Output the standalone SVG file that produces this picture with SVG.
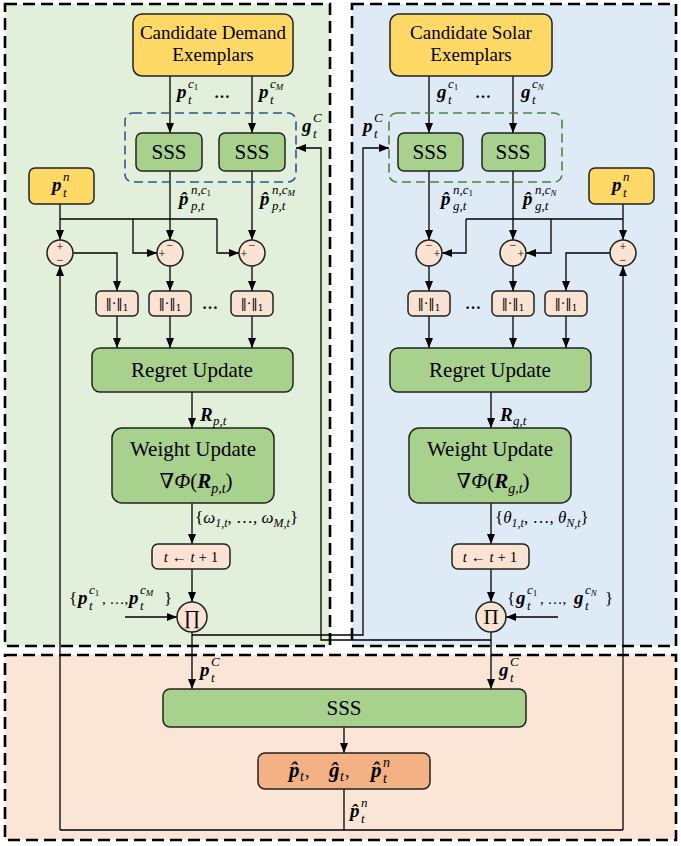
<svg xmlns="http://www.w3.org/2000/svg" width="681" height="846" viewBox="0 0 681 846">
<defs>
<marker id="ah" viewBox="0 0 10 8" refX="10" refY="4" markerWidth="10" markerHeight="8" markerUnits="userSpaceOnUse" orient="auto"><path d="M0,0 L10,4 L0,8 Z" fill="#000"/></marker>
<style>
.panel{stroke:#000;stroke-width:2.6;stroke-dasharray:12 6}
.box{stroke:#222;stroke-width:1.5}
.yel{fill:#FFD966}.grn{fill:#A9D18E}.pch{fill:#FBE3D4}.org{fill:#F4B183}
.grp{fill:none;stroke-width:1.6;stroke-dasharray:9 5}
.c{stroke:#000;stroke-width:1.3;fill:none}
.a{marker-end:url(#ah)}
text{font-family:"Liberation Serif","DejaVu Serif",serif;fill:#000}
.big{font-size:21px;text-anchor:middle}
.cand{font-size:19px;text-anchor:middle}
.m{font-style:italic;font-weight:bold;font-size:19px}
.s{font-style:italic;font-size:13px}
.ss{font-style:normal;font-size:9px}
.ssi{font-style:italic;font-size:9px}
.sg{font-size:12px;text-anchor:middle}
.nm{font-family:"DejaVu Serif",serif;font-size:13px;text-anchor:middle;opacity:0.99}
.dots{font-size:16px;font-weight:bold;text-anchor:middle}
</style>
</defs>
<rect width="681" height="846" fill="#fff"/>
<g id="panel-demand"><rect x="5" y="4" width="325" height="642" fill="#E2EFDA" class="panel"/></g>
<g id="panel-solar"><rect x="352" y="4" width="324" height="642" fill="#DEEBF7" class="panel"/></g>
<g id="panel-combine"><rect x="5" y="655" width="671" height="185" fill="#FBE5D6" class="panel"/></g>

<g id="connectors">
<path class="c a" d="M170,76V133"/>
<path class="c a" d="M252,76V133"/>
<path class="c a" d="M170,171V240"/>
<path class="c a" d="M252,171V240"/>
<path class="c a" d="M60,204V240"/>
<path class="c" d="M60,219H217"/>
<path class="c a" d="M133,219V253H157"/>
<path class="c a" d="M217,219V253H239"/>
<path class="c a" d="M73,253H117V291"/>
<path class="c a" d="M170,266V291"/>
<path class="c a" d="M252,266V291"/>
<path class="c a" d="M117,316V348"/>
<path class="c a" d="M170,316V348"/>
<path class="c a" d="M252,316V348"/>
<path class="c a" d="M192,392V428"/>
<path class="c a" d="M192,503V544"/>
<path class="c a" d="M192,569V602"/>
<path class="c a" d="M125,617H177"/>
<path class="c a" d="M192,632V689"/>
<path class="c a" d="M192,635H363V148H389"/>
<path class="c a" d="M429,76V133"/>
<path class="c a" d="M513,76V133"/>
<path class="c a" d="M429,171V240"/>
<path class="c a" d="M513,171V240"/>
<path class="c a" d="M623,204V240"/>
<path class="c" d="M466,219H623"/>
<path class="c a" d="M466,219V253H442"/>
<path class="c a" d="M551,219V253H526"/>
<path class="c a" d="M610,253H566V291"/>
<path class="c a" d="M429,266V291"/>
<path class="c a" d="M513,266V291"/>
<path class="c a" d="M429,316V348"/>
<path class="c a" d="M513,316V348"/>
<path class="c a" d="M566,316V348"/>
<path class="c a" d="M491,392V428"/>
<path class="c a" d="M491,503V544"/>
<path class="c a" d="M491,569V602"/>
<path class="c a" d="M558,617H506"/>
<path class="c a" d="M491,632V689"/>
<path class="c a" d="M491,640H321V148H296"/>
<path class="c a" d="M344,727V753"/>
<path class="c" d="M344,789V830M60,830H623"/>
<path class="c a" d="M60,830V266"/>
<path class="c a" d="M623,830V266"/>
</g>

<g id="demand-exemplars"><rect class="box yel" x="133" y="14" width="160" height="62" rx="9"/><text class="cand" x="213" y="39">Candidate Demand</text><text class="cand" x="213" y="61">Exemplars</text></g>
<g id="solar-exemplars"><rect class="box yel" x="390" y="14" width="162" height="62" rx="9"/><text class="cand" x="471" y="39">Candidate Solar</text><text class="cand" x="471" y="61">Exemplars</text></g>

<g id="demand-sss-group"><rect class="grp" x="125" y="113" width="171" height="69" rx="8" stroke="#2F5597"/></g>
<g id="solar-sss-group"><rect class="grp" x="389" y="113" width="173" height="69" rx="8" stroke="#548235"/></g>

<g id="sss-p1"><rect class="box grn" x="136" y="133" width="66" height="38" rx="6"/><text class="big" x="169" y="159">SSS</text></g>
<g id="sss-pM"><rect class="box grn" x="219" y="133" width="66" height="38" rx="6"/><text class="big" x="252" y="159">SSS</text></g>
<g id="sss-g1"><rect class="box grn" x="398" y="133" width="65" height="38" rx="6"/><text class="big" x="430" y="159">SSS</text></g>
<g id="sss-gN"><rect class="box grn" x="482" y="133" width="63" height="38" rx="6"/><text class="big" x="513" y="159">SSS</text></g>

<g id="pn-left"><rect class="box yel" x="29" y="168" width="65" height="36" rx="6"/><text class="m" x="52" y="191">p</text><text class="s" x="63" y="181">n</text><text class="s" x="63" y="196.5">t</text></g>
<g id="pn-right"><rect class="box yel" x="589" y="168" width="65" height="36" rx="6"/><text class="m" x="612" y="191">p</text><text class="s" x="623" y="181">n</text><text class="s" x="623" y="196.5">t</text></g>

<g id="sum-p0"><circle class="box pch" cx="60" cy="253" r="13"/><text class="sg" x="60" y="251">+</text><text class="sg" x="60" y="264">−</text></g>
<g id="sum-p1"><circle class="box pch" cx="170" cy="253" r="13"/><text class="sg" x="170" y="249">−</text><text class="sg" x="162" y="258">+</text></g>
<g id="sum-pM"><circle class="box pch" cx="252" cy="253" r="13"/><text class="sg" x="252" y="249">−</text><text class="sg" x="244" y="258">+</text></g>
<g id="sum-g1"><circle class="box pch" cx="429" cy="253" r="13"/><text class="sg" x="429" y="249">−</text><text class="sg" x="437" y="258">+</text></g>
<g id="sum-gN"><circle class="box pch" cx="513" cy="253" r="13"/><text class="sg" x="513" y="249">−</text><text class="sg" x="521" y="258">+</text></g>
<g id="sum-g0"><circle class="box pch" cx="623" cy="253" r="13"/><text class="sg" x="623" y="251">+</text><text class="sg" x="623" y="264">−</text></g>

<g id="norm-p0"><rect class="box pch" x="96" y="291" width="42" height="25" rx="5"/><text class="nm" x="117" y="308">‖·‖<tspan font-size="9" dy="3">1</tspan></text></g>
<g id="norm-p1"><rect class="box pch" x="149" y="291" width="42" height="25" rx="5"/><text class="nm" x="170" y="308">‖·‖<tspan font-size="9" dy="3">1</tspan></text></g>
<g id="norm-pM"><rect class="box pch" x="231" y="291" width="42" height="25" rx="5"/><text class="nm" x="252" y="308">‖·‖<tspan font-size="9" dy="3">1</tspan></text></g>
<text class="dots" x="210" y="309">…</text>
<g id="norm-g1"><rect class="box pch" x="408" y="291" width="42" height="25" rx="5"/><text class="nm" x="429" y="308">‖·‖<tspan font-size="9" dy="3">1</tspan></text></g>
<g id="norm-gN"><rect class="box pch" x="492" y="291" width="42" height="25" rx="5"/><text class="nm" x="513" y="308">‖·‖<tspan font-size="9" dy="3">1</tspan></text></g>
<g id="norm-g0"><rect class="box pch" x="545" y="291" width="42" height="25" rx="5"/><text class="nm" x="566" y="308">‖·‖<tspan font-size="9" dy="3">1</tspan></text></g>
<text class="dots" x="473" y="309">…</text>

<g id="regret-p"><rect class="box grn" x="92" y="348" width="201" height="44" rx="8"/><text class="big" x="192" y="377">Regret Update</text></g>
<g id="regret-g"><rect class="box grn" x="390" y="348" width="201" height="44" rx="8"/><text class="big" x="490" y="377">Regret Update</text></g>

<g id="weight-p"><rect class="box grn" x="112" y="428" width="162" height="75" rx="10"/><text class="big" x="193" y="456">Weight Update</text><text class="big" x="196" y="488">∇<tspan font-style="italic">Φ</tspan>(<tspan font-style="italic" font-weight="bold">R</tspan><tspan font-style="italic" font-size="14" dy="5">p,t</tspan><tspan dy="-5">)</tspan></text></g>
<g id="weight-g"><rect class="box grn" x="409" y="428" width="162" height="75" rx="10"/><text class="big" x="490" y="456">Weight Update</text><text class="big" x="493" y="488">∇<tspan font-style="italic">Φ</tspan>(<tspan font-style="italic" font-weight="bold">R</tspan><tspan font-style="italic" font-size="14" dy="5">g,t</tspan><tspan dy="-5">)</tspan></text></g>

<g id="tick-p"><rect class="box pch" x="152" y="544" width="78" height="25" rx="6"/><text x="191" y="562" style="font-size:15px;text-anchor:middle"><tspan font-style="italic">t</tspan> ← <tspan font-style="italic">t</tspan> + 1</text></g>
<g id="tick-g"><rect class="box pch" x="452" y="544" width="77" height="25" rx="6"/><text x="490" y="562" style="font-size:15px;text-anchor:middle"><tspan font-style="italic">t</tspan> ← <tspan font-style="italic">t</tspan> + 1</text></g>

<g id="prod-p"><circle class="box pch" cx="192" cy="617" r="15"/><text x="192" y="624" style="font-size:20px;text-anchor:middle">∏</text></g>
<g id="prod-g"><circle class="box pch" cx="491" cy="617" r="15"/><text x="491" y="624" style="font-size:21px;text-anchor:middle">Π</text></g>

<g id="sss-final"><rect class="box grn" x="163" y="689" width="363" height="38" rx="7"/><text class="big" x="344" y="715">SSS</text></g>
<g id="output"><rect class="box org" x="258" y="753" width="172" height="36" rx="7"/>
<text class="m" x="289" y="777" style="font-size:21px">p&#x302;</text><text class="s" x="300" y="781" style="font-size:14px">t</text><text x="305" y="777" style="font-size:18px">,</text>
<text class="m" x="329" y="777" style="font-size:21px">g&#x302;</text><text class="s" x="340" y="781" style="font-size:14px">t</text><text x="345" y="777" style="font-size:18px">,</text>
<text class="m" x="371" y="777" style="font-size:21px">p&#x302;</text><text class="s" x="383" y="767" style="font-size:14px">n</text><text class="s" x="383" y="783" style="font-size:14px">t</text>
</g>

<g id="labels">
<text class="m" x="177" y="98">p</text><text class="s" x="188" y="88">c<tspan class="ss" dy="2">1</tspan></text><text class="s" x="188" y="103.5">t</text>
<text class="dots" x="222" y="98">…</text>
<text class="m" x="259" y="98">p</text><text class="s" x="270" y="88">c<tspan class="ssi" dy="2">M</tspan></text><text class="s" x="270" y="103.5">t</text>
<text class="m" x="437" y="98">g</text><text class="s" x="448" y="88">c<tspan class="ss" dy="2">1</tspan></text><text class="s" x="448" y="103.5">t</text>
<text class="dots" x="483" y="98">…</text>
<text class="m" x="521" y="98">g</text><text class="s" x="532" y="88">c<tspan class="ssi" dy="2">N</tspan></text><text class="s" x="532" y="103.5">t</text>
<text class="m" x="302" y="132">g</text><text class="s" x="313" y="122">C</text><text class="s" x="313" y="137.5">t</text>
<text class="m" x="363" y="132">p</text><text class="s" x="374" y="122">C</text><text class="s" x="374" y="137.5">t</text>
<text class="m" x="179" y="205">p&#x302;</text><text class="s" x="191" y="194">n,c<tspan class="ss" dy="2">1</tspan></text><text class="s" x="191" y="210">p,t</text>
<text class="m" x="260" y="205">p&#x302;</text><text class="s" x="272" y="194">n,c<tspan class="ssi" dy="2">M</tspan></text><text class="s" x="272" y="210">p,t</text>
<text class="m" x="441" y="205">p&#x302;</text><text class="s" x="453" y="194">n,c<tspan class="ss" dy="2">1</tspan></text><text class="s" x="453" y="210">g,t</text>
<text class="m" x="523" y="205">p&#x302;</text><text class="s" x="535" y="194">n,c<tspan class="ssi" dy="2">N</tspan></text><text class="s" x="535" y="210">g,t</text>
<text class="m" x="200" y="421">R</text><text class="s" x="213" y="425">p,t</text>
<text class="m" x="500" y="421">R</text><text class="s" x="513" y="425">g,t</text>
<text x="195" y="523" style="font-size:17px">{<tspan font-style="italic">ω</tspan><tspan font-size="12" dy="4" font-style="italic">1,t</tspan><tspan dy="-4">, …, </tspan><tspan font-style="italic">ω</tspan><tspan font-size="12" dy="4" font-style="italic">M,t</tspan><tspan dy="-4">}</tspan></text>
<text x="495" y="523" style="font-size:17px">{<tspan font-style="italic">θ</tspan><tspan font-size="12" dy="4" font-style="italic">1,t</tspan><tspan dy="-4">, …, </tspan><tspan font-style="italic">θ</tspan><tspan font-size="12" dy="4" font-style="italic">N,t</tspan><tspan dy="-4">}</tspan></text>
<text x="69" y="604" style="font-size:17px">{</text><text class="m" x="78" y="604">p</text><text class="s" x="89" y="594">c<tspan class="ss" dy="2">1</tspan></text><text class="s" x="89" y="609.5">t</text>
<text x="102" y="604" style="font-size:15px">, …,</text>
<text class="m" x="129" y="604">p</text><text class="s" x="140" y="594">c<tspan class="ssi" dy="2">M</tspan></text><text class="s" x="140" y="609.5">t</text><text x="164" y="604" style="font-size:17px">}</text>
<text x="507" y="604" style="font-size:17px">{</text><text class="m" x="516" y="604">g</text><text class="s" x="527" y="594">c<tspan class="ss" dy="2">1</tspan></text><text class="s" x="527" y="609.5">t</text>
<text x="540" y="604" style="font-size:15px">, …,</text>
<text class="m" x="574" y="604">g</text><text class="s" x="585" y="594">c<tspan class="ssi" dy="2">N</tspan></text><text class="s" x="585" y="609.5">t</text><text x="605" y="604" style="font-size:17px">}</text>
<text class="m" x="200" y="676">p</text><text class="s" x="211" y="666">C</text><text class="s" x="211" y="681.5">t</text>
<text class="m" x="499" y="676">g</text><text class="s" x="510" y="666">C</text><text class="s" x="510" y="681.5">t</text>
<text class="m" x="350" y="817">p&#x302;</text><text class="s" x="361" y="807">n</text><text class="s" x="361" y="822.5">t</text>
</g>
</svg>
